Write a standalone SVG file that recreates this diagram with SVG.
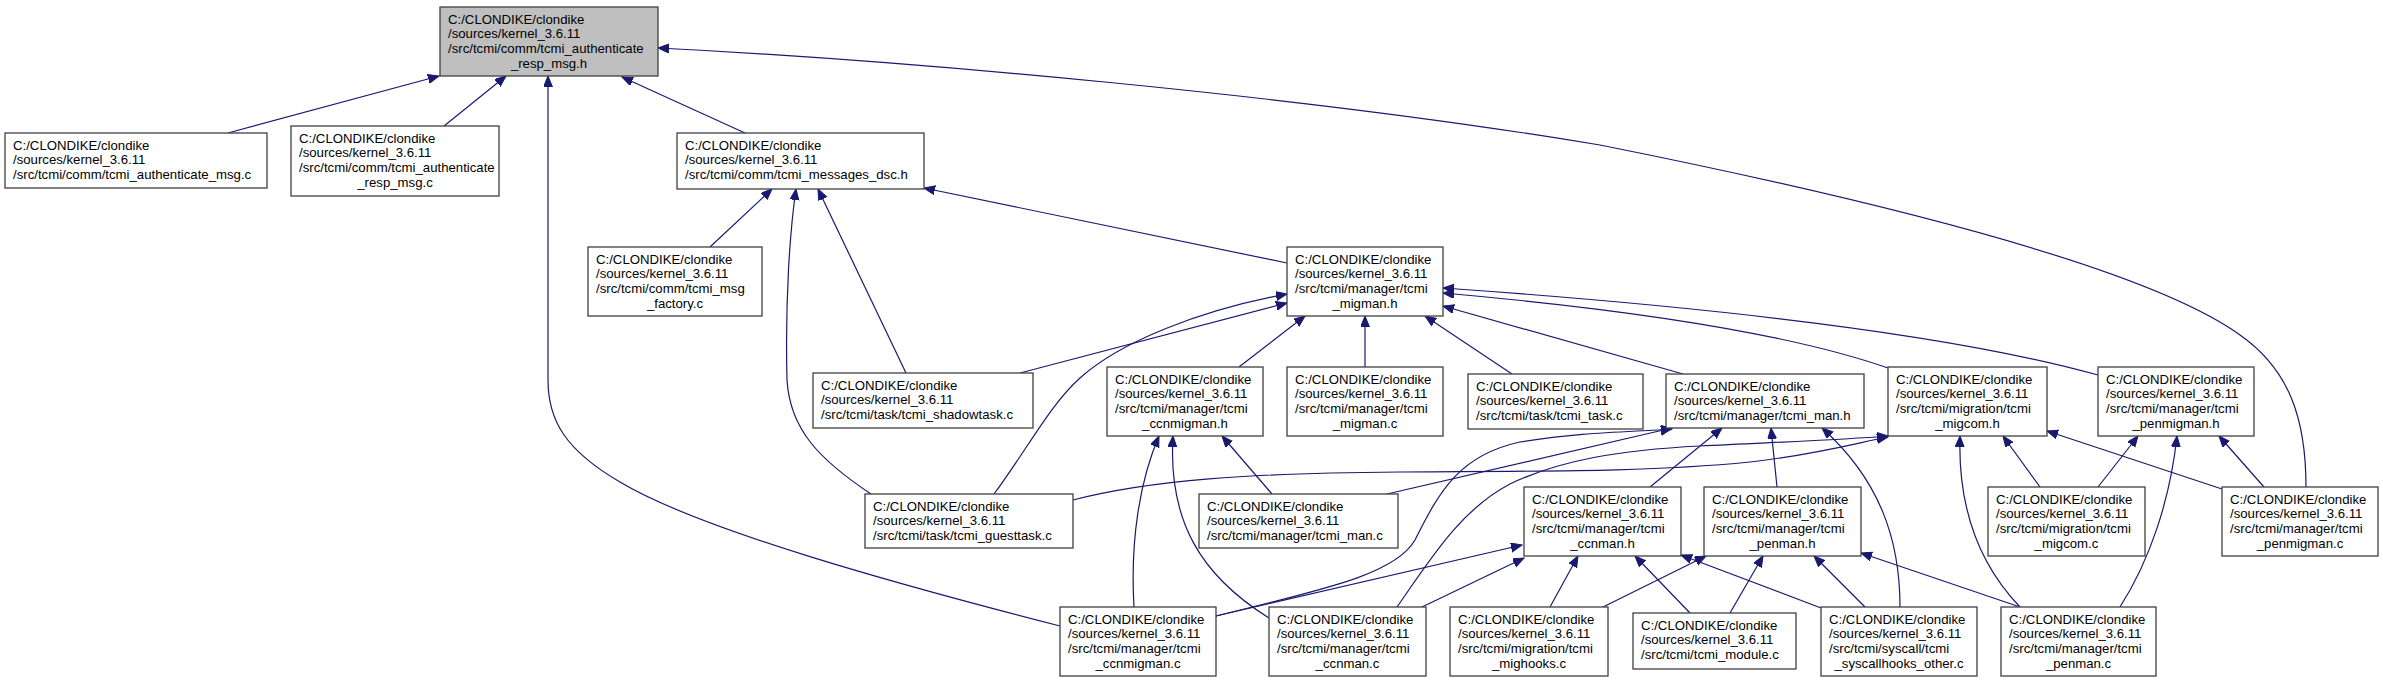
<svg xmlns="http://www.w3.org/2000/svg" width="2383" height="683" viewBox="0 0 2383 683">
<style>
.node rect{fill:#ffffff;stroke:#404040;stroke-width:1.3}
.root rect{fill:#bfbfbf}
text{font-family:"Liberation Sans",Arial,sans-serif;font-size:13.2px;fill:#000}
.c{text-anchor:middle}
.edges path{fill:none;stroke:#191970;stroke-width:1.2;marker-end:url(#arr)}
</style>
<defs>
<marker id="arr" markerUnits="userSpaceOnUse" markerWidth="12" markerHeight="10" refX="11" refY="4.5" orient="auto">
<path d="M0,0 L11,4.5 L0,9 z" fill="#191970" stroke="#191970" stroke-width="1"/>
</marker>
</defs>
<rect width="2383" height="683" fill="#ffffff"/>
<g class="edges" id="edges">
<path d="M228,133 L439,76"/>
<path d="M444,126 L506,76"/>
<path d="M745,133 L622,77"/>
<path d="M1060,626 C900,585 700,530 620,482 C565,450 548,420 548,380 L548,76"/>
<path d="M2306,487 C2306,420 2290,370 2240,335 C2150,270 1900,205 1600,145 C1300,95 900,60 658,48"/>
<path d="M710,247 L772,189"/>
<path d="M871,494 C820,460 790,430 787,380 C785,300 790,230 796,189"/>
<path d="M906,373 L818,189"/>
<path d="M1287,263 L924,188"/>
<path d="M1020,373 L1287,303"/>
<path d="M994,494 C1030,445 1050,405 1080,378 C1120,342 1200,310 1287,294"/>
<path d="M1239,367 L1305,316"/>
<path d="M1365,367 L1365,316"/>
<path d="M1512,374 L1425,316"/>
<path d="M1683,374 L1443,306"/>
<path d="M1888,368 Q1750,320 1443,293"/>
<path d="M2098,375 Q1900,320 1443,288"/>
<path d="M1134,607 C1130,540 1140,480 1159,436"/>
<path d="M1269,618 C1200,575 1168,520 1173,436"/>
<path d="M1272,494 L1222,436"/>
<path d="M1387,494 L1672,428"/>
<path d="M1216,616 C1320,590 1395,575 1415,540 C1440,490 1460,455 1520,442 C1580,432 1630,432 1672,429"/>
<path d="M1397,607 C1430,560 1460,510 1510,484 C1560,460 1620,450 1700,446 C1780,442 1840,440 1888,436"/>
<path d="M1073,500 C1150,480 1250,473 1400,472 C1550,471 1650,472 1750,462 C1820,454 1860,442 1888,437"/>
<path d="M1216,616 L1522,545"/>
<path d="M1422,607 L1524,558"/>
<path d="M1550,607 L1578,556"/>
<path d="M1690,613 L1635,556"/>
<path d="M1821,608 L1681,555"/>
<path d="M1603,607 L1706,556"/>
<path d="M1730,613 L1763,556"/>
<path d="M1865,607 L1814,556"/>
<path d="M2020,607 L1861,553"/>
<path d="M1650,487 L1722,428"/>
<path d="M1777,487 L1771,428"/>
<path d="M1900,607 C1900,540 1880,480 1822,428"/>
<path d="M2040,487 L2003,436"/>
<path d="M2020,607 C1975,560 1958,500 1960,436"/>
<path d="M2225,490 L2047,431"/>
<path d="M2098,487 L2138,436"/>
<path d="M2120,607 C2150,560 2170,500 2177,436"/>
<path d="M2264,487 L2219,436"/>
</g>
<g id="n0" class="node root"><rect x="440" y="7" width="218" height="69"/><text x="448" y="23.5">C:/CLONDIKE/clondike</text><text x="448" y="38.3">/sources/kernel_3.6.11</text><text x="448" y="53.1">/src/tcmi/comm/tcmi_authenticate</text><text class="c" x="549" y="67.9">_resp_msg.h</text></g>
<g id="n1" class="node"><rect x="5" y="133" width="262" height="55"/><text x="13" y="149.5">C:/CLONDIKE/clondike</text><text x="13" y="164.3">/sources/kernel_3.6.11</text><text x="13" y="179.1">/src/tcmi/comm/tcmi_authenticate_msg.c</text></g>
<g id="n2" class="node"><rect x="291" y="126" width="208" height="70"/><text x="299" y="142.5">C:/CLONDIKE/clondike</text><text x="299" y="157.3">/sources/kernel_3.6.11</text><text x="299" y="172.1">/src/tcmi/comm/tcmi_authenticate</text><text class="c" x="395" y="186.9">_resp_msg.c</text></g>
<g id="n3" class="node"><rect x="677" y="133" width="247" height="56"/><text x="685" y="149.5">C:/CLONDIKE/clondike</text><text x="685" y="164.3">/sources/kernel_3.6.11</text><text x="685" y="179.1">/src/tcmi/comm/tcmi_messages_dsc.h</text></g>
<g id="n4" class="node"><rect x="588" y="247" width="174" height="69"/><text x="596" y="263.5">C:/CLONDIKE/clondike</text><text x="596" y="278.3">/sources/kernel_3.6.11</text><text x="596" y="293.1">/src/tcmi/comm/tcmi_msg</text><text class="c" x="675" y="307.9">_factory.c</text></g>
<g id="n5" class="node"><rect x="1287" y="247" width="156" height="69"/><text x="1295" y="263.5">C:/CLONDIKE/clondike</text><text x="1295" y="278.3">/sources/kernel_3.6.11</text><text x="1295" y="293.1">/src/tcmi/manager/tcmi</text><text class="c" x="1365" y="307.9">_migman.h</text></g>
<g id="n6" class="node"><rect x="813" y="373" width="220" height="55"/><text x="821" y="389.5">C:/CLONDIKE/clondike</text><text x="821" y="404.3">/sources/kernel_3.6.11</text><text x="821" y="419.1">/src/tcmi/task/tcmi_shadowtask.c</text></g>
<g id="n7" class="node"><rect x="1107" y="367" width="156" height="69"/><text x="1115" y="383.5">C:/CLONDIKE/clondike</text><text x="1115" y="398.3">/sources/kernel_3.6.11</text><text x="1115" y="413.1">/src/tcmi/manager/tcmi</text><text class="c" x="1185" y="427.9">_ccnmigman.h</text></g>
<g id="n8" class="node"><rect x="1287" y="367" width="156" height="69"/><text x="1295" y="383.5">C:/CLONDIKE/clondike</text><text x="1295" y="398.3">/sources/kernel_3.6.11</text><text x="1295" y="413.1">/src/tcmi/manager/tcmi</text><text class="c" x="1365" y="427.9">_migman.c</text></g>
<g id="n9" class="node"><rect x="1468" y="374" width="175" height="55"/><text x="1476" y="390.5">C:/CLONDIKE/clondike</text><text x="1476" y="405.3">/sources/kernel_3.6.11</text><text x="1476" y="420.1">/src/tcmi/task/tcmi_task.c</text></g>
<g id="n10" class="node"><rect x="1666" y="374" width="198" height="54"/><text x="1674" y="390.5">C:/CLONDIKE/clondike</text><text x="1674" y="405.3">/sources/kernel_3.6.11</text><text x="1674" y="420.1">/src/tcmi/manager/tcmi_man.h</text></g>
<g id="n11" class="node"><rect x="1888" y="367" width="159" height="69"/><text x="1896" y="383.5">C:/CLONDIKE/clondike</text><text x="1896" y="398.3">/sources/kernel_3.6.11</text><text x="1896" y="413.1">/src/tcmi/migration/tcmi</text><text class="c" x="1967.5" y="427.9">_migcom.h</text></g>
<g id="n12" class="node"><rect x="2098" y="367" width="156" height="69"/><text x="2106" y="383.5">C:/CLONDIKE/clondike</text><text x="2106" y="398.3">/sources/kernel_3.6.11</text><text x="2106" y="413.1">/src/tcmi/manager/tcmi</text><text class="c" x="2176" y="427.9">_penmigman.h</text></g>
<g id="n13" class="node"><rect x="865" y="494" width="208" height="54"/><text x="873" y="510.5">C:/CLONDIKE/clondike</text><text x="873" y="525.3">/sources/kernel_3.6.11</text><text x="873" y="540.1">/src/tcmi/task/tcmi_guesttask.c</text></g>
<g id="n14" class="node"><rect x="1199" y="494" width="199" height="54"/><text x="1207" y="510.5">C:/CLONDIKE/clondike</text><text x="1207" y="525.3">/sources/kernel_3.6.11</text><text x="1207" y="540.1">/src/tcmi/manager/tcmi_man.c</text></g>
<g id="n15" class="node"><rect x="1524" y="487" width="157" height="69"/><text x="1532" y="503.5">C:/CLONDIKE/clondike</text><text x="1532" y="518.3">/sources/kernel_3.6.11</text><text x="1532" y="533.1">/src/tcmi/manager/tcmi</text><text class="c" x="1602.5" y="547.9">_ccnman.h</text></g>
<g id="n16" class="node"><rect x="1704" y="487" width="157" height="69"/><text x="1712" y="503.5">C:/CLONDIKE/clondike</text><text x="1712" y="518.3">/sources/kernel_3.6.11</text><text x="1712" y="533.1">/src/tcmi/manager/tcmi</text><text class="c" x="1782.5" y="547.9">_penman.h</text></g>
<g id="n17" class="node"><rect x="1988" y="487" width="157" height="69"/><text x="1996" y="503.5">C:/CLONDIKE/clondike</text><text x="1996" y="518.3">/sources/kernel_3.6.11</text><text x="1996" y="533.1">/src/tcmi/migration/tcmi</text><text class="c" x="2066.5" y="547.9">_migcom.c</text></g>
<g id="n18" class="node"><rect x="2222" y="487" width="156" height="69"/><text x="2230" y="503.5">C:/CLONDIKE/clondike</text><text x="2230" y="518.3">/sources/kernel_3.6.11</text><text x="2230" y="533.1">/src/tcmi/manager/tcmi</text><text class="c" x="2300" y="547.9">_penmigman.c</text></g>
<g id="n19" class="node"><rect x="1060" y="607" width="156" height="69"/><text x="1068" y="623.5">C:/CLONDIKE/clondike</text><text x="1068" y="638.3">/sources/kernel_3.6.11</text><text x="1068" y="653.1">/src/tcmi/manager/tcmi</text><text class="c" x="1138" y="667.9">_ccnmigman.c</text></g>
<g id="n20" class="node"><rect x="1269" y="607" width="157" height="69"/><text x="1277" y="623.5">C:/CLONDIKE/clondike</text><text x="1277" y="638.3">/sources/kernel_3.6.11</text><text x="1277" y="653.1">/src/tcmi/manager/tcmi</text><text class="c" x="1347.5" y="667.9">_ccnman.c</text></g>
<g id="n21" class="node"><rect x="1450" y="607" width="158" height="69"/><text x="1458" y="623.5">C:/CLONDIKE/clondike</text><text x="1458" y="638.3">/sources/kernel_3.6.11</text><text x="1458" y="653.1">/src/tcmi/migration/tcmi</text><text class="c" x="1529" y="667.9">_mighooks.c</text></g>
<g id="n22" class="node"><rect x="1633" y="613" width="163" height="56"/><text x="1641" y="629.5">C:/CLONDIKE/clondike</text><text x="1641" y="644.3">/sources/kernel_3.6.11</text><text x="1641" y="659.1">/src/tcmi/tcmi_module.c</text></g>
<g id="n23" class="node"><rect x="1821" y="607" width="156" height="69"/><text x="1829" y="623.5">C:/CLONDIKE/clondike</text><text x="1829" y="638.3">/sources/kernel_3.6.11</text><text x="1829" y="653.1">/src/tcmi/syscall/tcmi</text><text class="c" x="1899" y="667.9">_syscallhooks_other.c</text></g>
<g id="n24" class="node"><rect x="2001" y="607" width="155" height="69"/><text x="2009" y="623.5">C:/CLONDIKE/clondike</text><text x="2009" y="638.3">/sources/kernel_3.6.11</text><text x="2009" y="653.1">/src/tcmi/manager/tcmi</text><text class="c" x="2078.5" y="667.9">_penman.c</text></g>
</svg>
